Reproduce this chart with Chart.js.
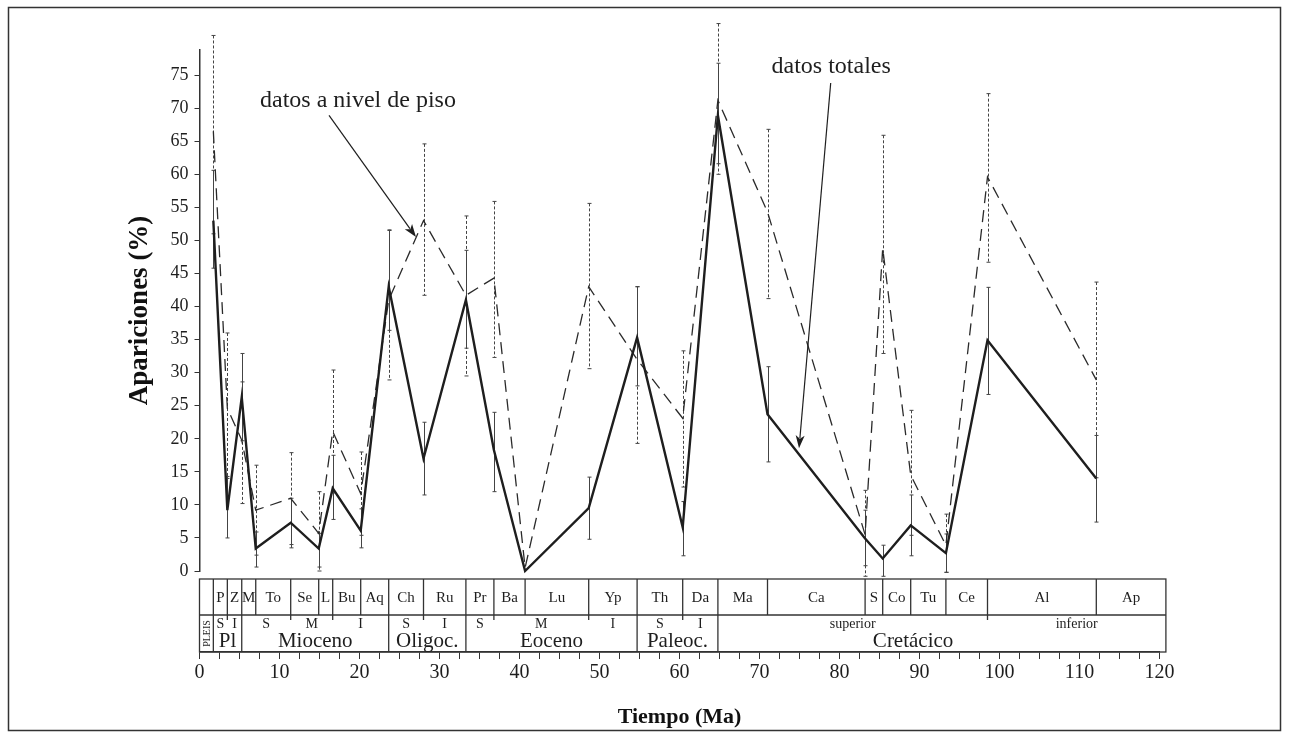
<!DOCTYPE html>
<html>
<head>
<meta charset="utf-8">
<title>Apariciones</title>
<script src="https://cdn.jsdelivr.net/npm/chart.js@4.4.0/dist/chart.umd.min.js"></script>
<style>
    html, body { margin: 0; padding: 0; background: #fff; }
</style>
</head>
<body>
<canvas id="myChart" width="1289" height="738"></canvas>
<script>
// edades (Ma) de los puntos: limites entre pisos
const edades = [1.73, 3.48, 5.28, 7.03, 11.4, 14.9, 16.65, 20.15, 23.65, 28.0, 33.3, 36.8,
                40.7, 48.65, 54.7, 60.4, 64.8, 71.0, 83.2, 85.4, 88.9, 93.3, 98.5, 112.1];

// datos totales (linea continua) y sus barras de error
const totales    = [53.0, 9.2, 26.3, 3.4, 7.3, 3.4, 12.5, 6.1, 43.0, 17.0, 41.0, 18.3,
                    0.0, 9.5, 35.3, 6.6, 68.9, 23.7, 4.9, 1.9, 6.9, 2.7, 34.9, 14.0];
const totalesMax = [60.6, 14.3, 32.9, 5.9, 11.0, 5.7, 17.5, 9.4, 51.5, 22.5, 48.5, 24.0,
                    null, 14.2, 43.0, 10.5, 76.8, 30.9, 9.2, 3.9, 11.5, 5.6, 42.9, 20.5];
const totalesMin = [45.8, 5.0, 19.7, 0.6, 3.5, 0.6, 7.8, 3.5, 36.4, 11.5, 33.7, 12.0,
                    null, 4.8, 28.0, 2.3, 61.6, 16.5, 0.8, -0.8, 2.3, -0.2, 26.7, 7.4];

// datos a nivel de piso (linea discontinua) y sus barras de error
const piso    = [66.5, 24.6, 19.8, 9.2, 11.0, 5.7, 21.1, 11.7, 41.0, 53.0, 41.7, 44.3,
                 0.5, 43.0, 32.0, 23.1, 71.2, 54.3, 5.5, 48.8, 14.5, 3.9, 59.6, 28.9];
const pisoMax = [81.0, 36.0, 28.6, 16.0, 17.9, 12.0, 30.4, 18.0, 51.6, 64.6, 53.7, 55.9,
                 null, 55.6, 43.0, 33.3, 82.8, 66.8, 12.2, 65.9, 24.3, 8.6, 72.2, 43.7];
const pisoMin = [51.0, 14.0, 10.2, 2.4, 4.0, 0.0, 11.8, 5.4, 28.9, 41.7, 29.5, 32.3,
                 null, 30.6, 19.3, 12.7, 60.0, 41.2, -0.8, 32.9, 5.4, -0.2, 46.7, 14.1];

const ticksY = [0, 5, 10, 15, 20, 25, 30, 35, 40, 45, 50, 55, 60, 65, 70, 75];
const ticksX = [0, 10, 20, 30, 40, 50, 60, 70, 80, 90, 100, 110, 120];

// tabla estratigrafica
const pisos = ['', 'P', 'Z', 'M', 'To', 'Se', 'L', 'Bu', 'Aq', 'Ch', 'Ru', 'Pr', 'Ba', 'Lu',
               'Yp', 'Th', 'Da', 'Ma', 'Ca', 'S', 'Co', 'Tu', 'Ce', 'Al', 'Ap'];
const limitesPisos = [0, 1.73, 3.48, 5.28, 7.03, 11.4, 14.9, 16.65, 20.15, 23.65, 28.0, 33.3,
                      36.8, 40.7, 48.65, 54.7, 60.4, 64.8, 71.0, 83.2, 85.4, 88.9, 93.3, 98.5,
                      112.1, 120.8];
const epocas = ['', 'Pl', 'Mioceno', 'Oligoc.', 'Eoceno', 'Paleoc.', 'Cretácico'];
const limitesEpocas = [0, 1.73, 5.28, 23.65, 33.3, 54.7, 64.8, 120.8];
const subdivisiones = ['S', 'I', 'S', 'M', 'I', 'S', 'I', 'S', 'M', 'I', 'S', 'I', 'superior', 'inferior'];
const limitesSub = [1.73, 3.48, 5.28, 11.4, 16.65, 23.65, 28.0, 33.3, 36.8, 48.65, 54.7, 60.4,
                    64.8, 98.5, 120.8];

const marcasX = [];
for (let v = 0; v <= 120; v += 2.5) marcasX.push(v);

const FUENTE = 'Liberation Serif, Times New Roman, serif';
const NEGRO = '#1e1e1e';

const marco = {
    id: 'marco',
    beforeDraw(chart) {
        const ctx = chart.ctx;
        ctx.save();
        ctx.fillStyle = '#fff';
        ctx.fillRect(0, 0, chart.width, chart.height);
        ctx.strokeStyle = '#333';
        ctx.lineWidth = 1.5;
        ctx.strokeRect(8.5, 7.5, 1272, 723);
        ctx.restore();
    }
};

const barrasError = {
    id: 'barrasError',
    beforeDatasetsDraw(chart) {
        const {ctx, scales: {x, y}} = chart;
        const grupos = [
            {max: pisoMax, min: pisoMin, dash: [3, 2], color: '#444'},
            {max: totalesMax, min: totalesMin, dash: [], color: '#444'}
        ];
        ctx.save();
        ctx.lineWidth = 1;
        grupos.forEach(g => {
            ctx.strokeStyle = g.color;
            edades.forEach((e, i) => {
                if (g.max[i] == null) return;
                const px = Math.round(x.getPixelForValue(e)) + 0.5;
                const y1 = y.getPixelForValue(g.max[i]);
                const y2 = y.getPixelForValue(g.min[i]);
                ctx.setLineDash(g.dash);
                ctx.beginPath();
                ctx.moveTo(px, y1);
                ctx.lineTo(px, y2);
                ctx.stroke();
                ctx.setLineDash([]);
                ctx.beginPath();
                ctx.moveTo(px - 2, y1); ctx.lineTo(px + 2, y1);
                ctx.moveTo(px - 2, y2); ctx.lineTo(px + 2, y2);
                ctx.stroke();
            });
        });
        ctx.restore();
    }
};

const tabla = {
    id: 'tabla',
    afterDraw(chart) {
        const {ctx, scales: {x, xTabla}} = chart;
        const top = xTabla.top + 8;
        const bottom = xTabla.bottom;
        const mid = top + 36;
        const px = v => x.getPixelForValue(v);
        ctx.save();
        ctx.strokeStyle = '#333';
        ctx.lineWidth = 1.3;
        ctx.fillStyle = NEGRO;
        // marco de la tabla y linea media
        ctx.strokeRect(px(0), top, px(limitesPisos[limitesPisos.length - 1]) - px(0), bottom - top);
        ctx.beginPath();
        ctx.moveTo(px(0), mid); ctx.lineTo(px(limitesPisos[limitesPisos.length - 1]), mid);
        ctx.stroke();
        // pisos
        ctx.textAlign = 'center';
        ctx.textBaseline = 'middle';
        ctx.font = '15px ' + FUENTE;
        for (let i = 0; i < pisos.length; i++) {
            const a = limitesPisos[i], b = limitesPisos[i + 1];
            if (i > 0) {
                ctx.beginPath();
                ctx.moveTo(px(a), top); ctx.lineTo(px(a), mid);
                ctx.stroke();
            }
            if (pisos[i]) ctx.fillText(pisos[i], (px(a) + px(b)) / 2, top + 19);
        }
        // epocas
        for (let i = 0; i < epocas.length; i++) {
            const a = limitesEpocas[i], b = limitesEpocas[i + 1];
            if (i > 0) {
                ctx.beginPath();
                ctx.moveTo(px(a), mid); ctx.lineTo(px(a), bottom);
                ctx.stroke();
            }
            if (epocas[i]) {
                ctx.font = '21px ' + FUENTE;
                let cx = (px(a) + px(b)) / 2;
                if (epocas[i] === 'Cretácico') cx = px(89.2);
                ctx.fillText(epocas[i], cx, mid + 26);
            }
        }
        // PLEIS en vertical
        ctx.save();
        ctx.font = '10px ' + FUENTE;
        ctx.translate((px(0) + px(limitesEpocas[1])) / 2 + 0.5, (mid + bottom) / 2);
        ctx.rotate(-Math.PI / 2);
        ctx.fillText('PLEIS', 0, 0);
        ctx.restore();
        // subdivisiones
        ctx.font = '14px ' + FUENTE;
        for (let i = 0; i < subdivisiones.length; i++) {
            const a = limitesSub[i], b = limitesSub[i + 1];
            if (i > 0 && !limitesEpocas.includes(a)) {
                ctx.beginPath();
                ctx.moveTo(px(a), mid); ctx.lineTo(px(a), mid + 5);
                ctx.stroke();
            }
            ctx.fillText(subdivisiones[i], (px(a) + px(b)) / 2, mid + 9);
        }
        ctx.restore();
    }
};

function flecha(ctx, x1, y1, x2, y2) {
    const ang = Math.atan2(y2 - y1, x2 - x1);
    const largo = 13, ancho = 4.5;
    ctx.beginPath();
    ctx.moveTo(x1, y1);
    ctx.lineTo(x2 - Math.cos(ang) * largo * 0.8, y2 - Math.sin(ang) * largo * 0.8);
    ctx.stroke();
    ctx.beginPath();
    ctx.moveTo(x2, y2);
    ctx.lineTo(x2 - Math.cos(ang) * largo + Math.sin(ang) * ancho, y2 - Math.sin(ang) * largo - Math.cos(ang) * ancho);
    ctx.lineTo(x2 - Math.cos(ang) * largo * 0.75, y2 - Math.sin(ang) * largo * 0.75);
    ctx.lineTo(x2 - Math.cos(ang) * largo - Math.sin(ang) * ancho, y2 - Math.sin(ang) * largo + Math.cos(ang) * ancho);
    ctx.closePath();
    ctx.fill();
}

const anotaciones = {
    id: 'anotaciones',
    afterDraw(chart) {
        const {ctx, scales: {x, y}} = chart;
        ctx.save();
        ctx.fillStyle = NEGRO;
        ctx.strokeStyle = NEGRO;
        ctx.lineWidth = 1.2;
        ctx.font = '24px ' + FUENTE;
        ctx.textAlign = 'left';
        ctx.textBaseline = 'alphabetic';
        ctx.fillText('datos a nivel de piso', x.getPixelForValue(7.56), y.getPixelForValue(70.2));
        ctx.fillText('datos totales', x.getPixelForValue(71.5), y.getPixelForValue(75.3));
        flecha(ctx, x.getPixelForValue(16.19), y.getPixelForValue(68.9),
                    x.getPixelForValue(27.06), y.getPixelForValue(50.5));
        flecha(ctx, x.getPixelForValue(78.9), y.getPixelForValue(73.8),
                    x.getPixelForValue(74.94), y.getPixelForValue(18.55));
        ctx.restore();
    }
};

const ctx = document.getElementById('myChart').getContext('2d');
const myChart = new Chart(ctx, {
    type: 'line',
    data: {
        datasets: [{
            label: 'datos totales',
            data: edades.map((e, i) => ({x: e, y: totales[i]})),
            borderColor: NEGRO,
            borderWidth: 2.4,
            pointRadius: 0,
            tension: 0,
            fill: false,
            clip: false,
            xAxisID: 'x',
            yAxisID: 'y'
        }, {
            label: 'datos a nivel de piso',
            data: edades.map((e, i) => ({x: e, y: piso[i]})),
            borderColor: '#2a2a2a',
            borderWidth: 1.3,
            borderDash: [12, 7],
            pointRadius: 0,
            tension: 0,
            fill: false,
            clip: false,
            xAxisID: 'x',
            yAxisID: 'y'
        }]
    },
    options: {
        responsive: false,
        animation: false,
        devicePixelRatio: 1,
        layout: { padding: { left: 123.8, right: 129.5, top: 50, bottom: 7.8 } },
        plugins: {
            legend: { display: false },
            tooltip: { enabled: false }
        },
        scales: {
            y: {
                type: 'linear',
                position: 'left',
                min: 0,
                max: 78.8,
                afterBuildTicks: s => { s.ticks = ticksY.map(v => ({value: v})); },
                afterFit: s => { s.width = 75.7; },
                grid: { drawOnChartArea: false, drawTicks: true, tickLength: 5, color: '#333' },
                border: { display: true, color: '#333', width: 1.5 },
                ticks: { color: NEGRO, padding: 6, font: { family: FUENTE, size: 18 } },
                title: {
                    display: true, text: 'Apariciones (%)', color: '#111', padding: 0,
                    font: { family: FUENTE, size: 27, weight: 'bold' }
                }
            },
            xTabla: {
                type: 'linear',
                position: 'bottom',
                min: 0,
                max: 120,
                weight: 0,
                ticks: { display: false },
                grid: { display: false },
                border: { display: false },
                afterFit: s => { s.height = 81; }
            },
            x: {
                type: 'linear',
                position: 'bottom',
                min: 0,
                max: 120,
                weight: 1,
                afterBuildTicks: s => { s.ticks = marcasX.map(v => ({value: v})); },
                afterFit: s => { s.height = 78.2; },
                grid: { drawOnChartArea: false, drawTicks: true, tickLength: 7, color: '#333' },
                border: { display: true, color: '#333', width: 1.5 },
                ticks: {
                    autoSkip: false, maxRotation: 0, color: NEGRO, padding: 2,
                    font: { family: FUENTE, size: 20 },
                    callback: v => ticksX.includes(v) ? String(v) : ''
                },
                title: {
                    display: true, text: 'Tiempo (Ma)', color: '#111', padding: 0,
                    font: { family: FUENTE, size: 22, weight: 'bold' }
                }
            }
        }
    },
    plugins: [marco, barrasError, tabla, anotaciones]
});
</script>
</body>
</html>
